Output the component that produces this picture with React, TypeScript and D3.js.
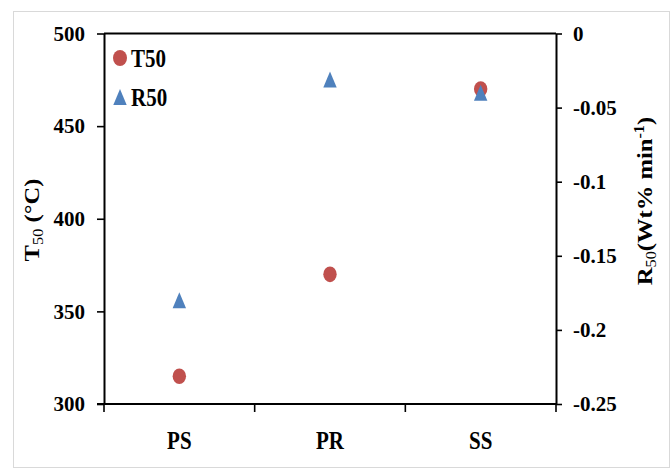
import { useEffect, useRef } from "react";
import * as d3 from "d3";

// samples on the x axis
const CATEGORIES = ["PS", "PR", "SS"];
// T50 in °C, left axis
const T50 = [315, 370, 470];
// R50 in Wt% min-1, right axis
const R50 = [-0.18, -0.031, -0.04];
const LEFT_TICKS = [300, 350, 400, 450, 500];
const RIGHT_TICKS = [0, -0.05, -0.1, -0.15, -0.2, -0.25];

const RED = "#C0504D";
const BLUE = "#4F81BD";
const FONT = "'Liberation Serif', 'Times New Roman', serif";
const SY = 1.17; // the picture is a little stretched vertically

export default function App() {
  const svgRef = useRef<SVGSVGElement>(null);
  const W = 672;
  const H = 468;
  const m = { left: 104, right: 556, top: 33.5, bottom: 404 };

  useEffect(() => {
    const svg = d3.select(svgRef.current).attr("width", W).attr("height", H);
    svg.selectAll("*").remove();

    const x = d3.scaleBand().domain(CATEGORIES).range([m.left, m.right]);
    const yL = d3.scaleLinear().domain([300, 500]).range([m.bottom, m.top]);
    const yR = d3.scaleLinear().domain([-0.25, 0]).range([m.bottom, m.top]);
    const cx = (c: string) => (x(c) as number) + x.bandwidth() / 2;

    /* outer frame */
    svg.append("rect")
      .attr("x", 13.5).attr("y", 11.5)
      .attr("width", 656).attr("height", 456)
      .attr("fill", "white").attr("stroke", "#d9d9d9").attr("stroke-width", 1);

    /* left axis */
    const left = svg.append("g").attr("transform", `translate(${m.left},0)`)
      .call(d3.axisLeft(yL).tickValues(LEFT_TICKS).tickSize(7).tickSizeOuter(0).tickPadding(12).tickFormat((d) => String(d)));
    /* right axis */
    const right = svg.append("g").attr("transform", `translate(${m.right},0)`)
      .call(d3.axisRight(yR).tickValues(RIGHT_TICKS).tickSize(6).tickSizeOuter(0).tickPadding(11).tickFormat((d) => String(d)));
    [left, right].forEach((g) => {
      g.select(".domain").attr("stroke", "black").attr("stroke-width", 2);
      g.selectAll(".tick line").attr("stroke", "black").attr("stroke-width", 1.6);
      g.selectAll(".tick text")
        .attr("fill", "black")
        .style("font-family", FONT)
        .style("font-weight", "bold")
        .style("font-size", "21px");
    });

    /* top + bottom lines */
    svg.append("line")
      .attr("x1", m.left).attr("x2", m.right).attr("y1", m.top).attr("y2", m.top)
      .attr("stroke", "black").attr("stroke-width", 2);
    svg.append("line")
      .attr("x1", m.left - 7).attr("x2", m.right).attr("y1", m.bottom).attr("y2", m.bottom)
      .attr("stroke", "black").attr("stroke-width", 2);

    /* x ticks on the band edges */
    const edges = [...CATEGORIES.map((c) => x(c) as number), m.right];
    svg.append("g").selectAll("line").data(edges).join("line")
      .attr("x1", (d) => d).attr("x2", (d) => d)
      .attr("y1", m.bottom).attr("y2", m.bottom + 8)
      .attr("stroke", "black").attr("stroke-width", 1.6);

    /* stretched text helper */
    function label(px: number, py: number, txt: string, anchor: string, rot = 0) {
      return svg.append("text")
        .attr("transform", `translate(${px},${py}) scale(1,${SY})` + (rot ? ` rotate(${rot})` : ""))
        .attr("text-anchor", anchor)
        .style("font-family", FONT)
        .style("font-weight", "bold")
        .style("font-size", "21px")
        .attr("fill", "black")
        .text(txt);
    }

    /* x labels */
    CATEGORIES.forEach((c) => label(cx(c), 449, c, "middle"));

    /* markers */
    function triangle(g: any, px: number, py: number) {
      g.append("path")
        .attr("d", "M0,-8 L6.7,8 L-6.7,8 Z")
        .attr("transform", `translate(${px},${py})`)
        .attr("fill", BLUE);
    }
    const pts = svg.append("g");
    T50.forEach((v, i) => {
      pts.append("ellipse")
        .attr("cx", cx(CATEGORIES[i]))
        .attr("cy", yL(v))
        .attr("rx", 6.7).attr("ry", 7.8)
        .attr("fill", RED);
    });
    R50.forEach((v, i) => triangle(pts, cx(CATEGORIES[i]), yR(v)));

    /* legend */
    svg.append("ellipse").attr("cx", 120).attr("cy", 58).attr("rx", 7).attr("ry", 8).attr("fill", RED);
    label(131, 66.5, "T50", "start");
    triangle(svg, 120, 97);
    label(131, 106, "R50", "start");

    /* left title */
    const lt = label(39, 220, "", "middle", -90);
    lt.append("tspan").text("T");
    lt.append("tspan").attr("dy", 4).style("font-size", "14px").style("font-weight", "normal").text("50");
    lt.append("tspan").attr("dy", -4).text(" (°C)");

    /* right title */
    const rt = label(652, 201, "", "middle", -90);
    rt.append("tspan").text("R");
    rt.append("tspan").attr("dy", 4).style("font-size", "14px").style("font-weight", "normal").text("50");
    rt.append("tspan").attr("dy", -4).text("(Wt% min");
    rt.append("tspan").attr("dy", -8).style("font-size", "14px").text("-1");
    rt.append("tspan").attr("dy", 8).text(")");
  }, []);

  return (
    <svg ref={svgRef} style={{ position: "absolute", left: 0, top: 0, display: "block" }}></svg>
  );
}
